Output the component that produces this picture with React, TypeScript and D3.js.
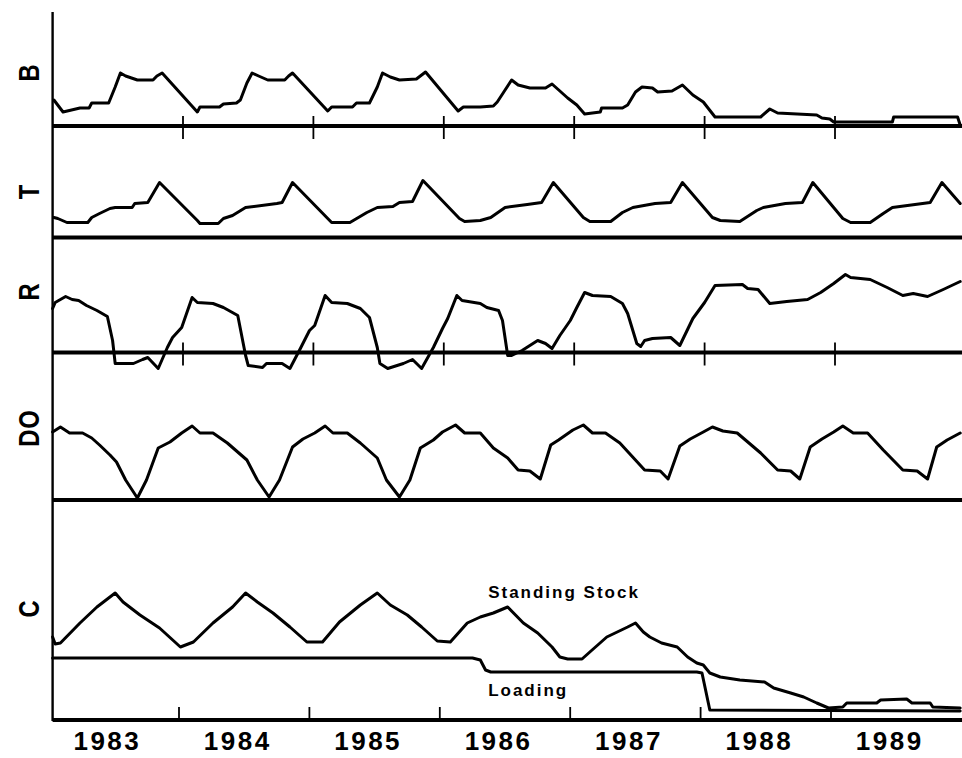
import React from "react";
import * as d3 from "d3";

// ---- data (decimal year, relative value above panel baseline) ----
const years = [1983, 1984, 1985, 1986, 1987, 1988, 1989];
const yearTicks = [1984, 1985, 1986, 1987, 1988, 1989];

const seriesB: [number, number][] = [[1983.01,26],[1983.08,14],[1983.21,18],[1983.28,18],[1983.30,23],[1983.43,23],[1983.48,39],[1983.52,53],[1983.56,50],[1983.65,46],[1983.77,46],[1983.80,50],[1983.84,53],[1984.11,14],[1984.13,19],[1984.28,19],[1984.31,22],[1984.41,23],[1984.44,26],[1984.49,43],[1984.53,53],[1984.58,50],[1984.65,46],[1984.78,46],[1984.81,50],[1984.84,53],[1985.11,15],[1985.14,19],[1985.30,19],[1985.33,23],[1985.43,23],[1985.49,39],[1985.53,53],[1985.59,49],[1985.66,46],[1985.79,47],[1985.86,54],[1986.11,15],[1986.15,19],[1986.28,19],[1986.38,20],[1986.41,24],[1986.47,36],[1986.52,46],[1986.57,41],[1986.66,38],[1986.78,38],[1986.83,42],[1986.95,28],[1987.02,21],[1987.08,12],[1987.20,14],[1987.21,18],[1987.37,18],[1987.41,21],[1987.47,34],[1987.52,39],[1987.60,38],[1987.64,34],[1987.75,35],[1987.83,41],[1987.91,31],[1987.99,24],[1988.08,9],[1988.43,9],[1988.50,17],[1988.56,13],[1988.86,11],[1988.90,8],[1988.96,7],[1988.99,4],[1989.44,4],[1989.45,9],[1989.94,9],[1989.96,1]];

const seriesT: [number, number][] = [[1983.01,20],[1983.04,19],[1983.11,15],[1983.27,15],[1983.30,20],[1983.36,24],[1983.44,29],[1983.48,30],[1983.61,30],[1983.63,34],[1983.73,35],[1983.82,55],[1984.11,17],[1984.13,14],[1984.27,14],[1984.31,19],[1984.38,22],[1984.48,30],[1984.72,34],[1984.76,35],[1984.84,55],[1985.11,19],[1985.14,15],[1985.28,15],[1985.41,25],[1985.49,30],[1985.61,31],[1985.66,35],[1985.76,36],[1985.84,57],[1986.12,19],[1986.16,16],[1986.28,17],[1986.36,20],[1986.47,30],[1986.64,33],[1986.75,35],[1986.84,55],[1987.07,20],[1987.12,16],[1987.28,16],[1987.37,25],[1987.45,30],[1987.62,34],[1987.74,35],[1987.83,55],[1988.06,20],[1988.12,17],[1988.27,16],[1988.40,27],[1988.45,30],[1988.62,34],[1988.75,35],[1988.83,55],[1989.06,19],[1989.12,15],[1989.27,15],[1989.37,24],[1989.44,30],[1989.73,35],[1989.82,55],[1989.96,34]];

const seriesR: [number, number][] = [[1983.00,44],[1983.02,50],[1983.10,56],[1983.15,53],[1983.20,52],[1983.26,47],[1983.34,42],[1983.42,36],[1983.46,12],[1983.48,-11],[1983.62,-11],[1983.69,-7],[1983.73,-5],[1983.81,-16],[1983.88,5],[1983.92,15],[1983.99,25],[1984.07,55],[1984.11,50],[1984.23,49],[1984.31,45],[1984.42,37],[1984.48,-3],[1984.50,-13],[1984.61,-15],[1984.64,-11],[1984.76,-11],[1984.82,-16],[1984.90,4],[1984.97,22],[1985.01,27],[1985.09,57],[1985.14,50],[1985.26,49],[1985.36,44],[1985.43,35],[1985.49,5],[1985.51,-11],[1985.57,-16],[1985.69,-11],[1985.76,-7],[1985.83,-16],[1985.92,5],[1985.99,24],[1986.03,34],[1986.10,57],[1986.14,52],[1986.28,49],[1986.33,45],[1986.42,42],[1986.45,32],[1986.49,-3],[1986.52,-3],[1986.60,2],[1986.66,7],[1986.72,12],[1986.78,9],[1986.83,4],[1986.89,17],[1986.97,32],[1987.02,45],[1987.08,60],[1987.14,57],[1987.28,56],[1987.37,49],[1987.41,39],[1987.48,9],[1987.51,6],[1987.54,12],[1987.60,14],[1987.74,15],[1987.81,7],[1987.91,34],[1988.00,50],[1988.08,67],[1988.29,68],[1988.33,64],[1988.41,63],[1988.50,49],[1988.63,51],[1988.79,53],[1988.89,60],[1988.99,69],[1989.08,78],[1989.12,75],[1989.27,73],[1989.40,65],[1989.52,57],[1989.60,59],[1989.71,56],[1989.83,63],[1989.96,71]];

const seriesDO: [number, number][] = [[1983.00,68],[1983.06,73],[1983.13,67],[1983.23,67],[1983.30,62],[1983.36,55],[1983.44,45],[1983.49,38],[1983.56,20],[1983.65,2],[1983.72,20],[1983.81,52],[1983.90,58],[1983.99,67],[1984.07,74],[1984.13,67],[1984.23,67],[1984.34,57],[1984.49,40],[1984.57,20],[1984.66,3],[1984.74,20],[1984.84,53],[1984.92,61],[1985.01,67],[1985.09,74],[1985.15,67],[1985.26,67],[1985.36,57],[1985.49,42],[1985.56,20],[1985.66,3],[1985.74,20],[1985.82,52],[1985.92,60],[1985.99,68],[1986.09,75],[1986.16,67],[1986.28,67],[1986.38,52],[1986.49,42],[1986.57,30],[1986.66,29],[1986.74,21],[1986.82,55],[1986.88,60],[1986.99,70],[1987.07,75],[1987.14,67],[1987.24,67],[1987.35,57],[1987.54,30],[1987.66,29],[1987.72,21],[1987.81,54],[1987.89,61],[1987.99,68],[1988.06,73],[1988.14,69],[1988.25,67],[1988.43,47],[1988.56,30],[1988.66,29],[1988.73,21],[1988.81,53],[1988.90,61],[1988.99,68],[1989.06,74],[1989.14,67],[1989.25,67],[1989.37,50],[1989.52,30],[1989.63,29],[1989.71,21],[1989.78,53],[1989.86,60],[1989.96,67]];

const standingStock: [number, number][] = [[1983.00,83],[1983.02,76],[1983.06,77],[1983.21,97],[1983.34,113],[1983.48,127],[1983.54,118],[1983.67,105],[1983.82,92],[1983.98,73],[1984.08,78],[1984.23,97],[1984.38,113],[1984.48,127],[1984.57,118],[1984.69,107],[1984.82,93],[1984.95,78],[1985.07,78],[1985.20,98],[1985.36,115],[1985.49,127],[1985.59,115],[1985.72,105],[1985.83,93],[1985.95,79],[1986.05,78],[1986.18,97],[1986.28,103],[1986.38,107],[1986.49,113],[1986.61,97],[1986.72,87],[1986.83,73],[1986.89,63],[1986.95,61],[1987.06,61],[1987.12,68],[1987.25,83],[1987.41,93],[1987.47,97],[1987.53,88],[1987.58,83],[1987.67,77],[1987.79,73],[1987.87,63],[1987.94,57],[1987.99,55],[1988.04,47],[1988.12,43],[1988.27,40],[1988.46,38],[1988.53,32],[1988.66,27],[1988.76,23],[1988.86,17],[1988.95,12],[1989.06,13],[1989.09,17],[1989.32,17],[1989.35,20],[1989.55,21],[1989.59,17],[1989.73,17],[1989.75,13],[1989.96,12]];

const loading: [number, number][] = [[1983.00,62],[1986.22,62],[1986.28,60],[1986.32,50],[1986.36,48],[1987.94,48],[1987.98,47],[1988.04,10],[1989.96,9]];

const panelLabels = ["B", "T", "R", "DO", "C"];

// ---- layout ----
const W = 962;
const H = 758;
const x0 = 52.6;
const yearPx = 130.4;
const FONT = "'Liberation Sans', Arial, Helvetica, sans-serif";

export default function App() {
  const x = d3.scaleLinear().domain([1983, 1990]).range([x0, x0 + 7 * yearPx]);
  const mk = (base: number) => d3.scaleLinear().domain([0, 100]).range([base, base - 100]);
  const panels = [
    { label: panelLabels[0], base: 126, data: [seriesB], labelY: 73, ticks: true },
    { label: panelLabels[1], base: 237.5, data: [seriesT], labelY: 192, ticks: false },
    { label: panelLabels[2], base: 352.5, data: [seriesR], labelY: 292, ticks: true },
    { label: panelLabels[3], base: 500, data: [seriesDO], labelY: 428, ticks: false },
    { label: panelLabels[4], base: 720, data: [standingStock, loading], labelY: 609, ticks: false },
  ];
  const xEnd = W;
  const cY = mk(720);

  return (
    <svg width={W} height={H} style={{ position: "absolute", left: 0, top: 0, background: "#fff" }}>
      <rect x={0} y={0} width={W} height={H} fill="#fff" />
      {/* vertical axis */}
      <line x1={x0} x2={x0} y1={12} y2={721} stroke="#000" strokeWidth={2.4} />
      {panels.map((p, i) => {
        const y = mk(p.base);
        const line = d3.line<[number, number]>().x((d) => x(d[0])).y((d) => y(d[1]));
        return (
          <g key={i}>
            <line x1={x0} x2={xEnd} y1={p.base} y2={p.base} stroke="#000" strokeWidth={3.8} />
            {p.ticks &&
              yearTicks.map((t) => (
                <line key={t} x1={x(t)} x2={x(t)} y1={p.base - 10} y2={p.base + 13} stroke="#000" strokeWidth={1.8} />
              ))}
            {p.data.map((s, j) => (
              <path key={j} d={line(s) || ""} fill="none" stroke="#000" strokeWidth={3} strokeLinejoin="round" strokeLinecap="round" />
            ))}
            <text
              transform={`translate(39,${p.labelY}) rotate(-90) scale(0.82,1)`}
              textAnchor="middle"
              fontFamily={FONT}
              fontWeight="bold"
              fontSize={29}
              letterSpacing={p.label.length > 1 ? 1 : 0}
            >
              {p.label}
            </text>
          </g>
        );
      })}
      {/* bottom axis ticks */}
      {yearTicks.map((t) => (
        <line key={t} x1={x(t) - 4} x2={x(t) - 4} y1={707} y2={720} stroke="#000" strokeWidth={1.8} />
      ))}
      {/* year labels */}
      {years.map((yr) => (
        <text key={yr} x={x(yr + 0.42)} y={750} textAnchor="middle" fontFamily={FONT} fontWeight="bold" fontSize={26} letterSpacing={2.5}>
          {yr}
        </text>
      ))}
      {/* annotations */}
      <text x={x(1986.34)} y={cY(122)} fontFamily={FONT} fontWeight="bold" fontSize={17} letterSpacing={2}>
        Standing Stock
      </text>
      <text x={x(1986.34)} y={cY(24)} fontFamily={FONT} fontWeight="bold" fontSize={17} letterSpacing={2}>
        Loading
      </text>
    </svg>
  );
}
